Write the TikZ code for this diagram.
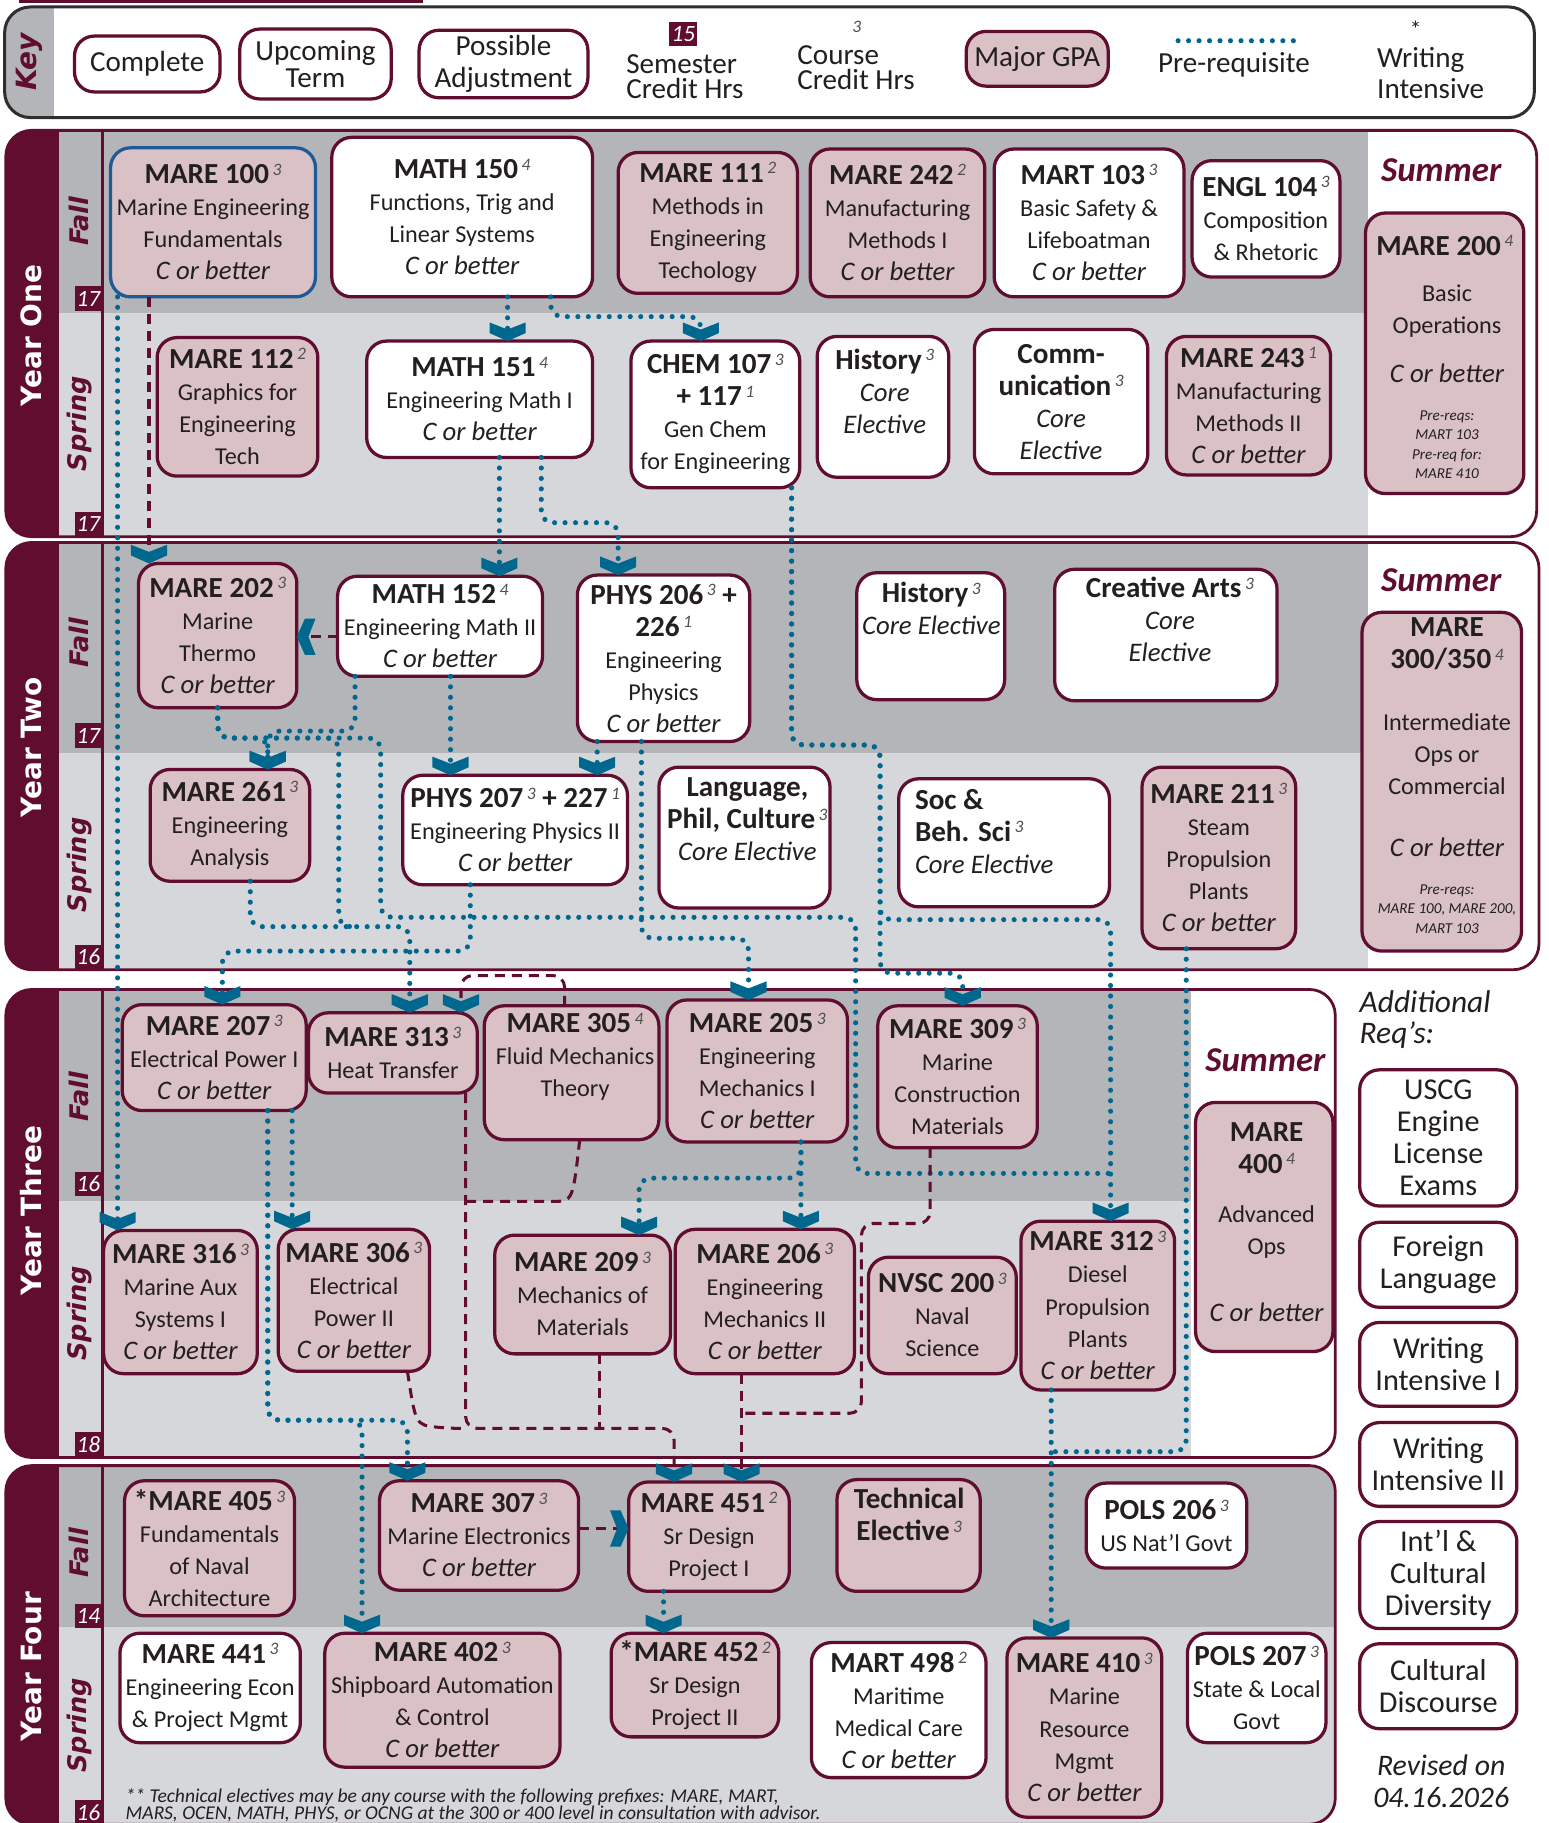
\documentclass[tikz,border=0pt]{standalone}
\usepackage{fontspec}
\setmainfont{Carlito}
\newfontfamily\dvs{DejaVu Sans}[BoldFont={DejaVu Sans Bold},ItalicFont={DejaVu Sans Oblique},BoldItalicFont={DejaVu Sans Bold Oblique}]
\usetikzlibrary{arrows.meta,fit}

\definecolor{mar}{HTML}{600D2F}
\definecolor{pnk}{HTML}{D9C1C6}
\definecolor{gone}{HTML}{B4B5B9}
\definecolor{gtwo}{HTML}{D6D7DA}
\definecolor{blu}{HTML}{00678F}
\definecolor{txt}{HTML}{231F20}
\definecolor{supg}{HTML}{505050}
\definecolor{keyb}{HTML}{2E2E2E}
\definecolor{bbord}{HTML}{1F5A96}

\pgfdeclarearrow{
  name = Chev,
  parameters = {\the\pgfarrowlength,\the\pgfarrowwidth},
  setup code = {
    \pgfarrowssettipend{0pt}
    \pgfarrowssetlineend{-.6\pgfarrowlength}
    \pgfarrowssetbackend{-\pgfarrowlength}
    \pgfarrowssavethe\pgfarrowlength
    \pgfarrowssavethe\pgfarrowwidth
  },
  drawing code = {
    \pgfpathmoveto{\pgfpointorigin}
    \pgfpathlineto{\pgfpoint{-.43\pgfarrowlength}{.5\pgfarrowwidth}}
    \pgfpathlineto{\pgfpoint{-\pgfarrowlength}{.5\pgfarrowwidth}}
    \pgfpathlineto{\pgfpoint{-.62\pgfarrowlength}{0pt}}
    \pgfpathlineto{\pgfpoint{-\pgfarrowlength}{-.5\pgfarrowwidth}}
    \pgfpathlineto{\pgfpoint{-.43\pgfarrowlength}{-.5\pgfarrowwidth}}
    \pgfpathclose
    \pgfusepathqfill
  },
  defaults = {length = 8pt, width = 15.5pt}
}

\newcommand\bodyf{\fontsize{10.4}{13.75}\selectfont}
\newcommand\keyf{\fontsize{12.5}{11.5}\selectfont}
\newcommand\smallf{\fontsize{6.5}{8.4}\selectfont\itshape}
\newcommand\crh[1]{\hspace{1.5pt}\smash{\raisebox{3.6pt}{\fontsize{7.5}{7.5}\selectfont\mdseries\itshape\color{supg}#1}}}
\newcommand\hd[1]{{\fontsize{12.5}{13.75}\selectfont\bfseries #1}}
\newcommand\ce[1]{{\fontsize{11.5}{13.75}\selectfont\itshape #1}}
\newcommand\cb{\ce{C or better}}
% box node (empty) + its text node at the box centre
\newcommand\boxt[8]{\node[#2, fit={(#3,#4)(#5,#6)}] (#1) {};\node[lbl,#7] (#1t) at ({(#3+#5)/2},{(#4+#6)/2}) {#8};}

\tikzset{
  crs/.style={draw=mar, line width=1.4pt, rounded corners=8.5pt, inner sep=0pt, outer sep=0pt},
  gpa/.style={crs, fill=pnk},
  upc/.style={crs, fill=white},
  lbl/.style={inner sep=0pt, outer sep=0pt, align=center, font=\bodyf, text=txt},
  keyt/.style={font=\keyf},
  addt/.style={font=\fontsize{13}{13.8}\selectfont},
  yrlbl/.style={rotate=90, inner sep=0pt, text=white, font=\dvs\bfseries\fontsize{12}{12}\selectfont},
  semlbl/.style={rotate=90, inner sep=0pt, text=mar, font=\dvs\bfseries\itshape\fontsize{11}{11}\selectfont},
  crb/.style={fill=mar, text=white, font=\fontsize{10}{10}\selectfont\itshape, minimum width=12pt, minimum height=10.5pt, inner sep=0pt, outer sep=0pt},
  summ/.style={inner sep=0pt, text=mar, font=\fontsize{15}{15}\selectfont\bfseries\itshape},
  dots/.style={blu, line width=2.2pt, dash pattern=on 0pt off 4.5pt, line cap=round, rounded corners=5pt},
  prq/.style={dots, -{Chev}},
  adjline/.style={mar, line width=1.3pt, dash pattern=on 4.3pt off 3pt, rounded corners=5pt},
  adjarrow/.style={adjline, -{Chev[color=blu,fill=blu]}},
  yborder/.style={mar, line width=1.2pt, rounded corners=11pt},
}

\begin{document}
\begin{tikzpicture}[x=0.5pt, y=-0.5pt]
\useasboundingbox (0,0) rectangle (1330,1566);
\clip (0,0) rectangle (1330,1566);
\fill[white] (0,0) rectangle (1330,1566);

% top bar
\fill[mar] (16,0) rectangle (363,3);

% ---------------- KEY ----------------
\begin{scope}
  \clip[rounded corners=11pt] (4,6) rectangle (1318,101);
  \fill[white] (4,6) rectangle (1318,101);
  \fill[gone] (4,6) rectangle (46,101);
\end{scope}
\draw[keyb, line width=1.3pt, rounded corners=11pt] (4,6) rectangle (1318,101);
\node[semlbl, font=\dvs\bfseries\itshape\fontsize{12}{12}\selectfont] (keylbl) at (25,53) {Key};
\boxt{kcomp}{upc}{64}{31}{189}{79}{keyt}{Complete}
\boxt{kup}{upc}{206}{25}{336}{85}{keyt}{Upcoming\\Term}
\boxt{kpos}{upc}{360}{26}{505}{84}{font=\fontsize{12.5}{14}\selectfont}{Possible\\Adjustment}
\node[crb] (k15) at (587,29) {15};
\node[lbl, align=left, anchor=west, font=\fontsize{12.5}{11}\selectfont] (ksem) at (538,66) {Semester\\Credit Hrs};
\node[lbl, font=\fontsize{7.5}{7.5}\selectfont\itshape, text=supg] (k3) at (736,23) {3};
\node[lbl, align=left, anchor=west, font=\fontsize{12.5}{11}\selectfont] (kcourse) at (685,58) {Course\\Credit Hrs};
\boxt{kgpa}{gpa}{830}{27}{952}{74}{keyt}{Major GPA}
\coordinate (kd1) at (1012,35);
\coordinate (kd2) at (1114,35);
\draw[dots] (kd1) -- (kd2);
\node[lbl, font=\keyf] (kpre) at (1060,56) {Pre-requisite};
\node[lbl, font=\fontsize{10}{10}\selectfont] (kstar) at (1216,25) {*};
\node[lbl, align=left, anchor=west, font=\fontsize{12.5}{13.5}\selectfont] (kwi) at (1183,63) {Writing\\Intensive};

% ---------------- YEAR BLOCKS ----------------
% Year One
\begin{scope}
  \clip[rounded corners=11pt] (5,112) rectangle (1320,461);
  \fill[white] (5,112) rectangle (1320,461);
  \fill[gone] (51,112) rectangle (1175,269);
  \fill[gtwo] (51,269) rectangle (1175,461);
  \fill[mar] (5,112) rectangle (51,461);
\end{scope}
\draw[yborder] (5,112) rectangle (1320,461);
\draw[mar, line width=1pt] (88,112) -- (88,461);
% Year Two
\begin{scope}
  \clip[rounded corners=11pt] (5,466) rectangle (1322,833);
  \fill[white] (5,466) rectangle (1322,833);
  \fill[gone] (51,466) rectangle (1175,647);
  \fill[gtwo] (51,647) rectangle (1175,833);
  \fill[mar] (5,466) rectangle (51,833);
\end{scope}
\draw[yborder] (5,466) rectangle (1322,833);
\draw[mar, line width=1pt] (88,466) -- (88,833);
% Year Three
\begin{scope}
  \clip[rounded corners=11pt] (5,850) rectangle (1147,1252);
  \fill[white] (5,850) rectangle (1147,1252);
  \fill[gone] (51,850) rectangle (1023,1032);
  \fill[gtwo] (51,1032) rectangle (1023,1252);
  \fill[mar] (5,850) rectangle (51,1252);
\end{scope}
\draw[yborder] (5,850) rectangle (1147,1252);
\draw[mar, line width=1pt] (88,850) -- (88,1252);
% Year Four
\begin{scope}
  \clip[rounded corners=11pt] (5,1259) rectangle (1147,1567);
  \fill[gone] (51,1259) rectangle (1147,1398);
  \fill[gtwo] (51,1398) rectangle (1147,1567);
  \fill[mar] (5,1259) rectangle (51,1567);
\end{scope}
\draw[yborder] (5,1259) rectangle (1147,1567);
\draw[mar, line width=1pt] (88,1259) -- (88,1567);

% year / semester labels and credits
\node[yrlbl] (y1) at (27,288) {Year One};
\node[semlbl] (f1) at (68,190) {Fall};
\node[semlbl] (sp1) at (68,364) {Spring};
\node[crb] (c1a) at (76,256.5) {17};
\node[crb] (c1b) at (76,450) {17};
\node[yrlbl] (y2) at (27,642) {Year Two};
\node[semlbl] (f2) at (68,552) {Fall};
\node[semlbl] (sp2) at (68,743) {Spring};
\node[crb] (c2a) at (76,632) {17};
\node[crb] (c2b) at (76,822) {16};
\node[yrlbl] (y3) at (27,1040) {Year Three};
\node[semlbl] (f3) at (68,942) {Fall};
\node[semlbl] (sp3) at (68,1128) {Spring};
\node[crb] (c3a) at (76,1017) {16};
\node[crb] (c3b) at (76,1241) {18};
\node[yrlbl] (y4) at (27,1432) {Year Four};
\node[semlbl] (f4) at (68,1334) {Fall};
\node[semlbl] (sp4) at (68,1482) {Spring};
\node[crb] (c4a) at (76,1388) {14};
\node[crb] (c4b) at (76,1557) {16};

% ---------------- YEAR ONE COURSES ----------------
\boxt{m100}{gpa, draw=bbord}{95}{127}{271}{255}{}{\hd{MARE 100\crh{3}}\\Marine Engineering\\Fundamentals\\\cb}
\boxt{m150}{upc}{285}{118}{509}{255}{}{\hd{MATH 150\crh{4}}\\Functions, Trig and\\Linear Systems\\\cb}
\boxt{m111}{gpa}{531}{131}{685}{252}{}{\hd{MARE 111\crh{2}}\\Methods in\\Engineering\\Techology}
\boxt{m242}{gpa}{696}{128}{846}{255}{}{\hd{MARE 242\crh{2}}\\Manufacturing\\Methods I\\\cb}
\boxt{t103}{upc}{854}{128}{1017}{255}{}{\hd{MART 103\crh{3}}\\Basic Safety \&\\Lifeboatman\\\cb}
\boxt{e104}{upc}{1024}{138}{1151}{238}{}{\hd{ENGL 104\crh{3}}\\Composition\\\& Rhetoric}
\node[summ] (s1) at (1238,146) {Summer};
\node[gpa, fit={(1173,183)(1309,424)}] (m200) {};
\node[lbl] (m200a) at (1241,211) {\hd{MARE 200\crh{4}}};
\node[lbl] (m200b) at (1243,267) {Basic\\Operations};
\node[lbl] (m200c) at (1243,321) {\cb};
\node[lbl, font=\smallf] (m200d) at (1243,382) {Pre-reqs:\\MART 103\\Pre-req for:\\MARE 410};

\boxt{m112}{gpa}{135}{290}{273}{409}{}{\hd{MARE 112\crh{2}}\\Graphics for\\Engineering\\Tech}
\boxt{m151}{upc}{315}{293}{509}{393}{}{\hd{MATH 151\crh{4}}\\Engineering Math I\\\cb}
\boxt{chem}{upc}{542}{293}{687}{419}{}{\hd{CHEM 107\crh{3}}\\\hd{+ 117\crh{1}}\\Gen Chem\\for Engineering}
\node[upc, fit={(702,289)(815,410)}] (hist1) {};
\node[lbl] (hist1t) at (760,336) {\hd{History\crh{3}}\\\ce{Core}\\\ce{Elective}};
\boxt{comm}{upc}{837}{283}{986}{407}{}{\hd{Comm-}\\\hd{unication\crh{3}}\\\ce{Core}\\\ce{Elective}}
\boxt{m243}{gpa}{1002}{289}{1143}{408}{}{\hd{MARE 243\crh{1}}\\Manufacturing\\Methods II\\\cb}

% ---------------- YEAR TWO COURSES ----------------
\boxt{m202}{gpa}{119}{484}{255}{608}{}{\hd{MARE 202\crh{3}}\\Marine\\Thermo\\\cb}
\boxt{m152}{upc}{290}{495}{466}{581}{}{\hd{MATH 152\crh{4}}\\Engineering Math II\\\cb}
\boxt{p206}{upc}{496}{494}{644}{637}{}{\hd{PHYS 206\crh{3} +}\\\hd{226\crh{1}}\\Engineering\\Physics\\\cb}
\node[upc, fit={(736,492)(863,601)}] (hist2) {};
\node[lbl] (hist2t) at (800,523) {\hd{History\crh{3}}\\\ce{Core Elective}};
\node[upc, fit={(906,489)(1097,602)}] (carts) {};
\node[lbl] (cartst) at (1005,532) {\hd{Creative Arts\crh{3}}\\\ce{Core}\\\ce{Elective}};
\node[summ] (s2) at (1238,498) {Summer};
\node[gpa, fit={(1170,526)(1307,817)}] (m300) {};
\node[lbl] (m300a) at (1243,553) {\hd{MARE}\\\hd{300/350\crh{4}}};
\node[lbl] (m300b) at (1243,648) {Intermediate\\Ops or\\Commercial};
\node[lbl] (m300c) at (1243,728) {\cb};
\node[lbl, font=\smallf] (m300d) at (1243,781) {Pre-reqs:\\MARE 100, MARE 200,\\MART 103};

\boxt{m261}{gpa}{129}{661}{266}{757}{}{\hd{MARE 261\crh{3}}\\Engineering\\Analysis}
\boxt{p207}{upc}{346}{666}{539}{760}{}{\hd{PHYS 207\crh{3} + 227\crh{1}}\\Engineering Physics II\\\cb}
\node[upc, fit={(566,659)(713,780)}] (lang) {};
\node[lbl] (langt) at (642,704) {\hd{Language,}\\\hd{Phil, Culture\crh{3}}\\\ce{Core Elective}};
\node[upc, fit={(772,669)(953,779)}] (soc) {};
\node[lbl, align=left, anchor=west] (soct) at (786,714) {\hd{Soc \&}\\\hd{Beh. Sci\crh{3}}\\\ce{Core Elective}};
\boxt{m211}{gpa}{981}{659}{1113}{815}{}{\hd{MARE 211\crh{3}}\\Steam\\Propulsion\\Plants\\\cb}

% ---------------- YEAR THREE COURSES ----------------
\boxt{m207}{gpa}{105}{863}{263}{954}{}{\hd{MARE 207\crh{3}}\\Electrical Power I\\\cb}
\boxt{m313}{gpa}{265}{870}{410}{939}{}{\hd{MARE 313\crh{3}}\\Heat Transfer}
\node[gpa, fit={(416,864)(566,979)}] (m305) {};
\node[lbl] (m305t) at (494,908) {\hd{MARE 305\crh{4}}\\Fluid Mechanics\\Theory};
\boxt{m205}{gpa}{573}{859}{728}{981}{}{\hd{MARE 205\crh{3}}\\Engineering\\Mechanics I\\\cb}
\boxt{m309}{gpa}{754}{864}{891}{986}{}{\hd{MARE 309\crh{3}}\\Marine\\Construction\\Materials}
\node[summ] (s3) at (1087,911) {Summer};
\node[gpa, fit={(1027,947)(1145,1161)}] (m400) {};
\node[lbl] (m400a) at (1088,986) {\hd{MARE}\\\hd{400\crh{4}}};
\node[lbl] (m400b) at (1088,1058) {Advanced\\Ops};
\node[lbl] (m400c) at (1088,1127) {\cb};

\boxt{m316}{gpa}{89}{1057}{221}{1180}{}{\hd{MARE 316\crh{3}}\\Marine Aux\\Systems I\\\cb}
\boxt{m306}{gpa}{239}{1056}{369}{1178}{}{\hd{MARE 306\crh{3}}\\Electrical\\Power II\\\cb}
\boxt{m209}{gpa}{425}{1061}{576}{1163}{}{\hd{MARE 209\crh{3}}\\Mechanics of\\Materials}
\boxt{m206}{gpa}{580}{1056}{734}{1180}{}{\hd{MARE 206\crh{3}}\\Engineering\\Mechanics II\\\cb}
\boxt{nvsc}{gpa}{746}{1080}{873}{1180}{}{\hd{NVSC 200\crh{3}}\\Naval\\Science}
\boxt{m312}{gpa}{877}{1049}{1009}{1194}{}{\hd{MARE 312\crh{3}}\\Diesel\\Propulsion\\Plants\\\cb}

% ---------------- ADDITIONAL ----------------
\node[lbl, align=left, anchor=west, font=\fontsize{13.5}{13.5}\selectfont\itshape] (addl) at (1168,876) {Additional\\Req’s:};
\boxt{a1}{upc}{1168}{919}{1303}{1036}{addt}{USCG\\Engine\\License\\Exams}
\boxt{a2}{upc}{1168}{1050}{1303}{1123}{addt}{Foreign\\Language}
\boxt{a3}{upc}{1168}{1136}{1303}{1208}{addt}{Writing\\Intensive I}
\boxt{a4}{upc}{1168}{1222}{1303}{1294}{addt}{Writing\\Intensive II}
\boxt{a5}{upc}{1168}{1307}{1303}{1399}{addt}{Int’l \&\\Cultural\\Diversity}
\boxt{a6}{upc}{1168}{1412}{1303}{1485}{addt}{Cultural\\Discourse}
\node[lbl, font=\fontsize{12.8}{14}\selectfont\itshape] (rev) at (1238,1530) {Revised on\\04.16.2026};

% ---------------- YEAR FOUR COURSES ----------------
\boxt{m405}{gpa}{107}{1272}{253}{1388}{}{\hd{*MARE 405\crh{3}}\\Fundamentals\\of Naval\\Architecture}
\boxt{m307}{gpa}{326}{1272}{497}{1366}{}{\hd{MARE 307\crh{3}}\\Marine Electronics\\\cb}
\boxt{m451}{gpa}{540}{1273}{678}{1367}{}{\hd{MARE 451\crh{2}}\\Sr Design\\Project I}
\node[gpa, fit={(719,1271)(842,1367)}] (tech) {};
\node[lbl] (techt) at (781,1301) {\hd{Technical}\\\hd{Elective\crh{3}}};
\boxt{pols206}{upc}{933}{1274}{1071}{1347}{}{\hd{POLS 206\crh{3}}\\US Nat’l Govt}

\boxt{m441}{upc}{103}{1403}{258}{1497}{}{\hd{MARE 441\crh{3}}\\Engineering Econ\\\& Project Mgmt}
\boxt{m402}{gpa}{279}{1403}{481}{1518}{}{\hd{MARE 402\crh{3}}\\Shipboard Automation\\\& Control\\\cb}
\boxt{m452}{gpa}{525}{1403}{669}{1492}{}{\hd{*MARE 452\crh{2}}\\Sr Design\\Project II}
\boxt{t498}{upc}{697}{1411}{847}{1527}{}{\hd{MART 498\crh{2}}\\Maritime\\Medical Care\\\cb}
\boxt{m410}{gpa}{865}{1407}{998}{1561}{}{\hd{MARE 410\crh{3}}\\Marine\\Resource\\Mgmt\\\cb}
\boxt{pols207}{upc}{1020}{1403}{1139}{1497}{}{\hd{POLS 207\crh{3}}\\State \& Local\\Govt}
\node[lbl, align=left, anchor=west, font=\fontsize{8.4}{7.4}\selectfont\itshape] (fn) at (108,1551) {** Technical electives may be any course with the following prefixes: MARE, MART,\\MARS, OCEN, MATH, PHYS, or OCNG at the 300 or 400 level in consultation with advisor.};

% ---------------- PRE-REQUISITES (dotted) ----------------
\draw[prq] (101,0 |- m100.south) -- (101,0 |- m316.north);
\draw[prq] (436,0 |- m150.south) -- (436,0 |- m151.north);
\draw[prq] (473,0 |- m150.south) -- (473,272) -- (602,272) -- (602,0 |- chem.north);
\draw[prq] (429,0 |- m151.south) -- (429,0 |- m152.north);
\draw[prq] (465,0 |- m151.south) -- (465,449) -- (531,449) -- (531,0 |- p206.north);
\draw[prq] (680,0 |- chem.south) -- (680,640) -- (756,640) -- (756,836) -- (827,836) -- (827,0 |- m309.north);
\draw[prq] (680,0 |- chem.south) -- (680,640) -- (756,640) -- (756,790) -- (954,790) -- (954,0 |- m312.north);
\draw[prq] (187,0 |- m202.south) -- (187,634) -- (230,634) -- (230,0 |- m261.north);
\draw[prq] (305,0 |- m152.south) -- (305,628) -- (230,628) -- (230,0 |- m261.north);
\draw[dots] (187,0 |- m202.south) -- (187,634) -- (291,634) -- (291,796) -- (306,796);
\draw[dots] (187,0 |- m202.south) -- (187,634) -- (327,634) -- (327,788) -- (735,788) -- (735,1008) -- (954,1008);
\draw[prq] (215,0 |- m261.south) -- (215,796) -- (352,796) -- (352,0 |- m313.north);
\draw[prq] (387,0 |- m152.south) -- (387,0 |- p207.north);
\draw[prq] (513,0 |- p206.south) -- (513,0 |- p207.north);
\draw[prq] (404,0 |- p207.south) -- (404,817) -- (191,817) -- (191,0 |- m207.north);
\draw[prq] (551,0 |- p206.south) -- (551,806) -- (643,806) -- (643,0 |- m205.north);
\draw[prq] (251,0 |- m207.south) -- (251,0 |- m306.north);
\draw[prq] (230,0 |- m207.south) -- (230,1220) -- (350,1220) -- (350,0 |- m307.north);
\draw[prq] (230,0 |- m207.south) -- (230,1220) -- (311,1220) -- (311,0 |- m402.north);
\draw[prq] (688,0 |- m205.south) -- (688,0 |- m206.north);
\draw[prq] (688,0 |- m205.south) -- (688,1012) -- (549,1012) -- (549,0 |- m209.north);
\draw[prq] (903,0 |- m312.south) -- (903,0 |- m410.north);
\draw[dots] (1019,0 |- m211.south) -- (1019,1247) -- (903,1247);
\draw[prq] (570,0 |- m451.south) -- (570,0 |- m452.north);

% ---------------- POSSIBLE ADJUSTMENT (dashed) ----------------
\draw[adjarrow] (128,0 |- m100.south) -- (128,0 |- m202.north);
\draw[adjarrow] (m152.west |- 0,547) -- (m202.east |- 0,547);
\draw[adjarrow] (m307.east |- 0,1313) -- (m451.west |- 0,1313);
\draw[adjarrow] (485,0 |- m305.north) -- (485,838) -- (396,838) -- (396,0 |- m313.north);
\draw[adjarrow] (400,0 |- m313.south) -- (400,1227) -- (579,1227) -- (579,0 |- m451.north);
\draw[adjline] (498,0 |- m305.south) .. controls (492,1032) .. (465,1032) -- (400,1032);
\draw[adjline] (350,0 |- m306.south) .. controls (357,1224) .. (385,1227) -- (400,1227);
\draw[adjline] (515,0 |- m209.south) -- (515,1227);
\draw[adjarrow] (637,0 |- m206.south) -- (637,0 |- m451.north);
\draw[adjline] (799,0 |- m309.south) -- (799,1051) -- (740,1051) -- (740,1214) -- (637,1214);

\end{tikzpicture}
\end{document}
